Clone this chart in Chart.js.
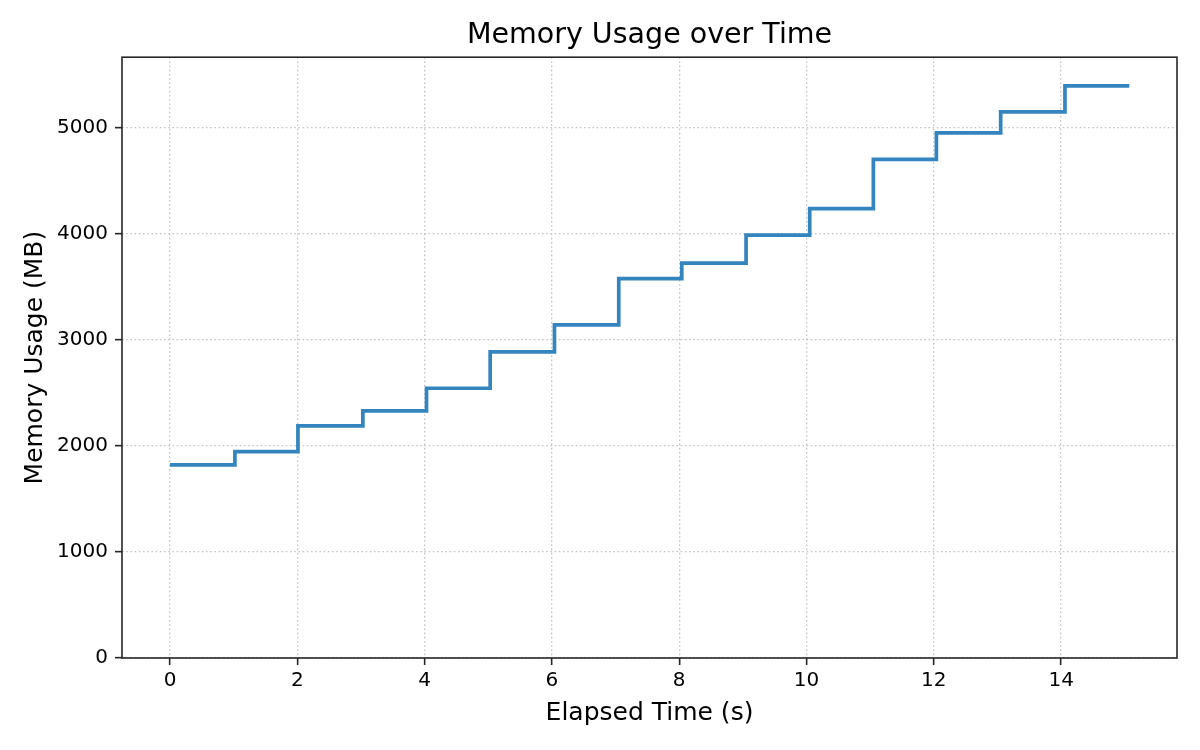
<!DOCTYPE html>
<html>
<head>
<meta charset="utf-8">
<script src="https://cdn.jsdelivr.net/npm/chart.js@4.4.1/dist/chart.umd.min.js"></script>
<style>
  html, body { margin: 0; padding: 0; background: #fff; }
  #wrap { width: 1200px; height: 750px; }
</style>
</head>
<body>
<div id="wrap"><canvas id="memChart" width="1200" height="750"></canvas></div>
<script>
// elapsed time of each sample (s) and memory in use (MB)
const elapsed = [0, 1.02, 2.01, 3.03, 4.03, 5.03, 6.04, 7.05, 8.04, 9.05, 10.05, 11.05, 12.04, 13.05, 14.06, 15.07]
const memoryMb = [1820, 1945, 2187, 2329, 2542, 2885, 3140, 3575, 3722, 3985, 4235, 4700, 4948, 5147, 5392, 5392]

const xTicks = [0, 2, 4, 6, 8, 10, 12, 14]
const yTicks = [0, 1000, 2000, 3000, 4000, 5000]

const FONT = "'DejaVu Sans', sans-serif"

// spines round the plot area, like a matplotlib axes box
const frame = {
    id: 'frame',
    afterDraw(chart) {
        const {ctx, chartArea: a} = chart
        ctx.save()
        ctx.strokeStyle = '#262626'
        ctx.lineWidth = 1.6
        ctx.strokeRect(a.left, a.top, a.right - a.left, a.bottom - a.top)
        ctx.restore()
    }
}

function memoryChart(id) {
    const points = []
    for (let i = 0; i < elapsed.length; i++)
        points.push({x: elapsed[i], y: memoryMb[i]})

    const gridOpts = {
        color: '#c4c4c4',
        lineWidth: 1.3,
        drawTicks: true,
        tickLength: 7,
        tickColor: '#262626',
        tickWidth: 1.6,
        tickBorderDash: []
    }
    // in v4 the grid dash lives on border.dash
    const borderOpts = {display: false, dash: [1.6, 2.6]}

    const config = {
        type: 'line',
        data: {
            datasets: [{
                label: 'Memory',
                data: points,
                stepped: 'before',
                borderColor: '#3484bf',
                borderWidth: 3.7,
                pointRadius: 0,
                fill: false
            }]
        },
        options: {
            responsive: false,
            animation: false,
            devicePixelRatio: 1,
            layout: {padding: {left: 0, right: 23, top: 0, bottom: 0}},
            plugins: {
                legend: {display: false},
                tooltip: {enabled: false},
                title: {
                    display: true,
                    fullSize: false,
                    text: 'Memory Usage over Time',
                    color: '#000',
                    font: {family: FONT, size: 28.5, weight: 'normal'},
                    padding: {top: 18, bottom: 5}
                }
            },
            scales: {
                x: {
                    type: 'linear',
                    min: -0.754,
                    max: 15.82,
                    grid: gridOpts,
                    border: borderOpts,
                    afterBuildTicks: s => { s.ticks = xTicks.map(v => ({value: v})) },
                    afterFit: s => { s.height = 92 },
                    ticks: {color: '#000', padding: 4, font: {family: FONT, size: 20},
                            callback: v => String(v)},
                    title: {
                        display: true,
                        text: 'Elapsed Time (s)',
                        color: '#000',
                        font: {family: FONT, size: 25},
                        padding: {top: 0, bottom: 22}
                    }
                },
                y: {
                    type: 'linear',
                    min: 0,
                    max: 5662,
                    grid: gridOpts,
                    border: borderOpts,
                    afterBuildTicks: s => { s.ticks = yTicks.map(v => ({value: v})) },
                    afterFit: s => { s.width = 122 },
                    ticks: {color: '#000', padding: 7, font: {family: FONT, size: 20},
                            callback: v => String(v)},
                    title: {
                        display: true,
                        text: 'Memory Usage (MB)',
                        color: '#000',
                        font: {family: FONT, size: 25},
                        padding: {top: 20, bottom: 0}
                    }
                }
            }
        },
        plugins: [frame]
    }

    let ch = document.getElementById(id).getContext("2d")
    new Chart(ch, config)
}

memoryChart('memChart')
</script>
</body>
</html>
